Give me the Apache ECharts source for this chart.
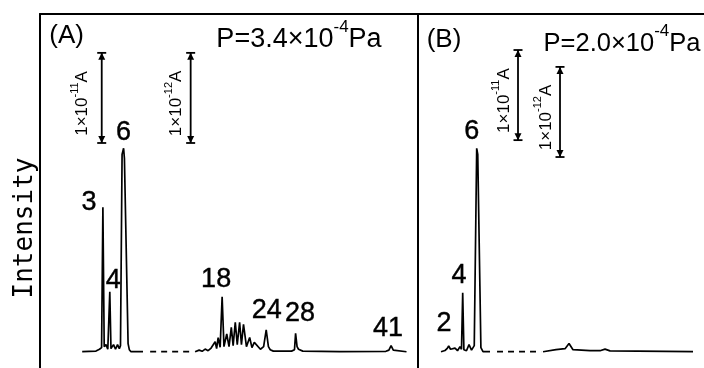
<!DOCTYPE html>
<html>
<head>
<meta charset="utf-8">
<script src="https://cdn.jsdelivr.net/npm/echarts@6/dist/echarts.min.js"></script>
<style>
  html, body { margin: 0; padding: 0; background: #fff; }
  #chart { width: 704px; height: 368px; }
</style>
</head>
<body>
<div id="chart"></div>
<script>
// ---- Data: mass number vs. relative intensity (peak 6 in panel A = 100) ----
const peakMassA = [3, 4, 6, 18, 24, 28, 41];
const peakHeightA = [71, 29.5, 100, 27, 10.7, 9, 3];
const peakMassB = [2, 4, 6];
const peakHeightB = [2.8, 29, 100];

// Unlabelled trace vertices [mass, intensity], before and after the axis break
const traceLowA = [
  [0, 0], [2.0, 0.3], [2.5, 1.2], [2.81, 2], [3.19, 2.5], [3.45, 3.5], [3.71, 1.2],
  [3.85, 2], [4.17, 1.5], [4.54, 3.5], [4.83, 1.2], [5.12, 3.5], [5.38, 1.5],
  [5.55, 3], [5.78, 97], [6.12, 95], [6.65, 4], [6.83, 1], [7.07, 0], [8.81, 0]
];
const traceHighA = [
  [14.32, 0], [14.87, 0.8], [15.28, 0.2], [15.69, 1.3], [16.09, 0.5], [16.5, 1.8],
  [16.77, 1], [17.05, 4.9], [17.25, 1.5], [17.46, 6.9], [17.73, 2.2], [18.25, 2.5],
  [18.63, 8.7], [18.94, 2.5], [19.25, 12], [19.5, 3], [19.79, 14.5], [20.06, 3.5],
  [20.38, 14.5], [20.63, 3.5], [20.91, 13.5], [21.31, 2.5], [21.75, 7], [22.06, 2],
  [22.38, 4.6], [23.21, 1.2], [23.65, 2.5], [24.3, 2.5], [24.55, 1], [24.97, 0.3],
  [27.45, 0.3], [27.85, 1], [28.2, 2.5], [28.4, 1.2], [28.98, 0.3], [34, 0],
  [40.3, 0.2], [40.7, 0.8], [41.3, 0.8], [41.56, 0.2], [43.1, 0]
];
const traceLowB = [
  [0.9, 0], [1.47, 0.6], [1.76, 1.5], [2.26, 1.2], [2.47, 0.6], [2.9, 1.8], [3.26, 0.5],
  [3.61, 2.5], [3.83, 1.2], [4.17, 1], [4.54, 0.5], [4.9, 3.5], [5.26, 0.8],
  [5.65, 3], [6.15, 97], [6.6, 2], [6.9, 0], [7.9, 0]
];
const traceHighB = [
  [14.46, 0], [16.23, 1], [17.46, 1.5], [18, 4], [18.54, 1], [20.86, 0.5],
  [22.22, 0.5], [22.9, 1.3], [23.58, 0.4], [34.88, 0]
];

// Mass spans bridged by the dashed axis break
const breakSpanA = [8.2, 13.7];
const breakSpanB = [8.2, 14.2];

// Current scale bars: exponent of 1×10^n A, bar length in intensity units
const scaleBarExpA = ['-11', '-12'];
const scaleBarExpB = ['-11', '-12'];
const scaleBarSpan = 44.3;

// Pressure readings
const pressureA = ['3.4', '-4'];
const pressureB = ['2.0', '-4'];

// ---- Layout ----
const FONT = "'Liberation Sans', Arial, sans-serif";
const MONO = "'DejaVu Sans Mono', monospace";
const BREAK_MASS = 8;          // peaks below this sit on the low-mass axis
// text-centre offsets (px) from each peak top
const labelOffsetA = [[-14, -4.5], [3.5, -11], [0, -16], [-6, -17], [0.5, -19], [4.5, -20], [-3, -17.5]];
const labelOffsetB = [[-4.7, -22], [-3.7, -16.7], [-5, -16.5]];
// scale-bar placement: [mass on low axis, top intensity], text dx (px)
const barPlaceA = [[2.83, 146.9], [15.72, 146.9]];
const barPlaceB = [[11.9, 148.3], [17.9, 140.0]];
const barTextDxA = [-19, -14];
const barTextDxB = [-14, -14];

function buildTrace(vertices, masses, heights, keep) {
  const pts = vertices.slice();
  masses.forEach((m, i) => { if (keep(m)) pts.push([m, heights[i]]); });
  return pts.sort((a, b) => a[0] - b[0]);
}

const isLow = m => m < BREAK_MASS;
const isHigh = m => m >= BREAK_MASS;

function traceSeries(xi, yi, data, dashed) {
  return {
    type: 'line', xAxisIndex: xi, yAxisIndex: yi, data,
    symbol: 'none', silent: true, animation: false,
    lineStyle: { color: '#000', width: 1.7, type: dashed ? [6, 5] : 'solid' }
  };
}

function peakLabelSeries(xi, yi, masses, heights, offsets, keep) {
  const data = [];
  masses.forEach((m, i) => { if (keep(m)) data.push([m, heights[i], i]); });
  return {
    type: 'custom', xAxisIndex: xi, yAxisIndex: yi, data, silent: true, animation: false, clip: false,
    renderItem(params, api) {
      const p = api.coord([api.value(0), api.value(1)]);
      const off = offsets[api.value(2)];
      return {
        type: 'text', x: p[0] + off[0], y: p[1] + off[1],
        style: {
          text: String(api.value(0)), fill: '#000', stroke: '#000', lineWidth: 0.4,
          fontSize: 27, fontFamily: FONT, align: 'center', verticalAlign: 'middle'
        }
      };
    }
  };
}

function scaleBarSeries(xi, yi, exps, places, dxs) {
  const data = places.map((p, i) => [p[0], p[1], p[1] - scaleBarSpan, i]);
  return {
    type: 'custom', xAxisIndex: xi, yAxisIndex: yi, data, silent: true, animation: false, clip: false,
    renderItem(params, api) {
      const i = api.value(3);
      const a = api.coord([api.value(0), api.value(1)]);
      const b = api.coord([api.value(0), api.value(2)]);
      const x = a[0];
      const ln = { stroke: '#000', lineWidth: 1.8 };
      return {
        type: 'group',
        children: [
          { type: 'line', shape: { x1: x, y1: a[1], x2: x, y2: b[1] }, style: ln },
          { type: 'line', shape: { x1: x - 4.5, y1: a[1], x2: x + 4.5, y2: a[1] }, style: ln },
          { type: 'line', shape: { x1: x - 4.5, y1: b[1], x2: x + 4.5, y2: b[1] }, style: ln },
          { type: 'polygon', shape: { points: [[x, a[1]], [x - 3.5, a[1] + 7], [x + 3.5, a[1] + 7]] }, style: { fill: '#000' } },
          { type: 'polygon', shape: { points: [[x, b[1]], [x - 3.5, b[1] - 7], [x + 3.5, b[1] - 7]] }, style: { fill: '#000' } },
          {
            type: 'text', x: x + dxs[i], y: (a[1] + b[1]) / 2 + 5.5, rotation: Math.PI / 2,
            style: {
              text: '{m|1×10}{s|' + exps[i] + '}{m|A}', fill: '#000',
              align: 'center', verticalAlign: 'middle',
              rich: {
                m: { fontSize: 17, fontFamily: FONT, lineHeight: 27, fill: '#000' },
                s: { fontSize: 11, fontFamily: FONT, lineHeight: 11, verticalAlign: 'top', fill: '#000' }
              }
            }
          }
        ]
      };
    }
  };
}

function pressureText(x, y, p, size) {
  return {
    type: 'text', x, y, silent: true,
    style: {
      text: '{m|P=' + p[0] + '×10}{s|' + p[1] + '}{m|Pa}', fill: '#000',
      align: 'center', verticalAlign: 'middle',
      rich: {
        m: { fontSize: size, fontFamily: FONT, lineHeight: 42, fill: '#000' },
        s: { fontSize: 17, fontFamily: FONT, lineHeight: 17, verticalAlign: 'top', fill: '#000' }
      }
    }
  };
}

const frame = { show: true, onZero: false, lineStyle: { color: '#000', width: 2 } };
const hidden = { axisTick: { show: false }, axisLabel: { show: false }, splitLine: { show: false } };

const option = {
  backgroundColor: '#fff',
  animation: false,
  grid: [
    { left: 40, top: 14, width: 378, height: 354 },
    { left: 418, top: 14, width: 286, height: 354 }
  ],
  xAxis: [
    Object.assign({ type: 'value', gridIndex: 0, min: -6.116, max: 48.67, position: 'top', axisLine: frame }, hidden),
    Object.assign({ type: 'value', gridIndex: 0, min: -6.793, max: 44.664, show: false }, hidden),
    Object.assign({ type: 'value', gridIndex: 1, min: -2.386, max: 38.471, position: 'top', axisLine: frame }, hidden),
    Object.assign({ type: 'value', gridIndex: 1, min: -2.559, max: 36.374, show: false }, hidden)
  ],
  yAxis: [
    Object.assign({ type: 'value', gridIndex: 0, min: -8, max: 166, axisLine: frame }, hidden),
    Object.assign({ type: 'value', gridIndex: 1, min: -8, max: 166, axisLine: frame }, hidden)
  ],
  graphic: [
    {
      type: 'text', x: 25, y: 228, rotation: Math.PI / 2, silent: true,
      style: { text: 'Intensity', fill: '#000', fontSize: 26, fontFamily: MONO, align: 'center', verticalAlign: 'middle' }
    },
    { type: 'text', x: 66.7, y: 35.5, silent: true,
      style: { text: '(A)', fill: '#000', fontSize: 26, fontFamily: FONT, align: 'center', verticalAlign: 'middle' } },
    { type: 'text', x: 444, y: 40, silent: true,
      style: { text: '(B)', fill: '#000', fontSize: 26, fontFamily: FONT, align: 'center', verticalAlign: 'middle' } },
    pressureText(299, 40, pressureA, 27),
    pressureText(622, 44, pressureB, 25.5)
  ],
  series: [
    traceSeries(0, 0, buildTrace(traceLowA, peakMassA, peakHeightA, isLow), false),
    traceSeries(1, 0, [[breakSpanA[0], 0], [breakSpanA[1], 0]], true),
    traceSeries(1, 0, buildTrace(traceHighA, peakMassA, peakHeightA, isHigh), false),
    traceSeries(2, 1, buildTrace(traceLowB, peakMassB, peakHeightB, isLow), false),
    traceSeries(3, 1, [[breakSpanB[0], 0], [breakSpanB[1], 0]], true),
    traceSeries(3, 1, buildTrace(traceHighB, peakMassB, peakHeightB, isHigh), false),
    peakLabelSeries(0, 0, peakMassA, peakHeightA, labelOffsetA, isLow),
    peakLabelSeries(1, 0, peakMassA, peakHeightA, labelOffsetA, isHigh),
    peakLabelSeries(2, 1, peakMassB, peakHeightB, labelOffsetB, isLow),
    scaleBarSeries(0, 0, scaleBarExpA, barPlaceA, barTextDxA),
    scaleBarSeries(2, 1, scaleBarExpB, barPlaceB, barTextDxB)
  ]
};

const chart = echarts.init(document.getElementById('chart'), null, { renderer: 'canvas' });
chart.setOption(option);
</script>
</body>
</html>
